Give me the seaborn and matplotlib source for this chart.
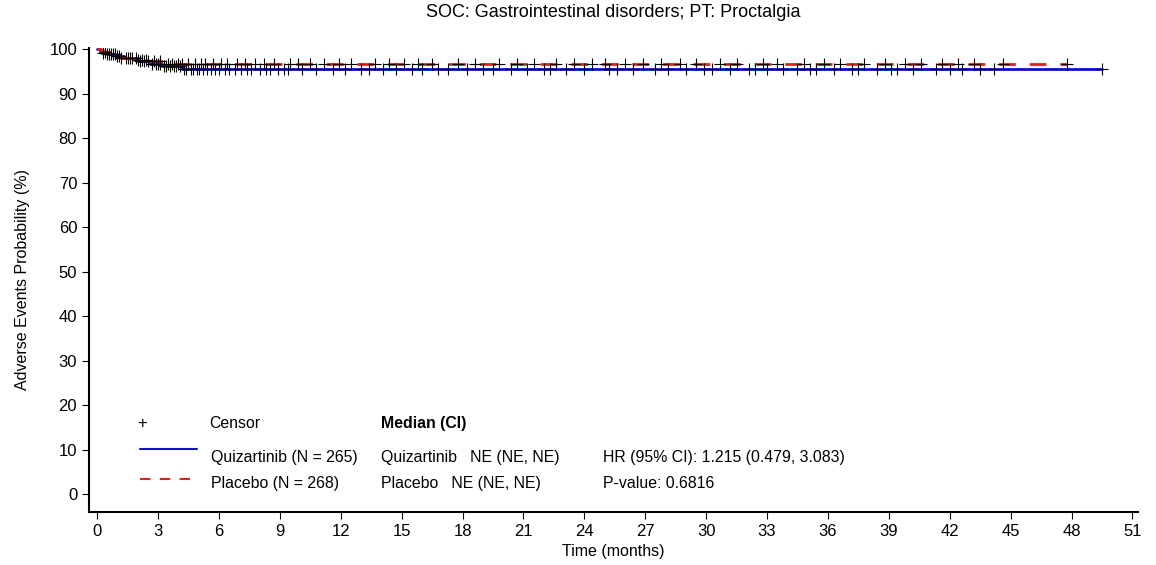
import numpy as np
import pandas as pd
import matplotlib
matplotlib.use("Agg")
import matplotlib.pyplot as plt
import seaborn as sns

# KM step points (months, % without event)
quiz_time = [0, 0.15, 0.3, 0.5, 0.9, 1.3, 2.0, 2.6, 3.2, 4.2, 49.5]
quiz_surv = [100, 99.6, 99.2, 98.9, 98.5, 98.1, 97.3, 96.6, 96.2, 95.5, 95.5]
plac_time = [0, 0.2, 0.4, 0.7, 1.2, 1.8, 2.5, 3.3, 47.8]
plac_surv = [100, 99.6, 99.3, 98.9, 98.1, 97.7, 97.3, 96.6, 96.6]

# censoring times
quiz_cens = [0.3, 0.5, 0.6, 0.8, 1.0, 1.1, 1.4, 1.6, 1.9, 2.1, 2.3, 2.5, 2.7, 2.9, 3.0,
             3.1, 3.3, 3.4, 3.6, 3.8, 3.9, 4.1, 4.3, 4.4, 4.6, 4.7, 4.9, 5.0, 5.2, 5.4,
             5.6, 5.8, 6.0, 6.3, 6.5, 6.8, 7.1, 7.4, 7.6, 8.0, 8.3, 8.5, 8.9, 9.2, 9.4,
             10.1, 10.8, 11.6, 12.2, 13.0, 13.4, 14.1, 14.7, 15.5, 16.0, 16.8, 17.3,
             18.2, 19.0, 19.5, 20.4, 21.2, 22.0, 22.3, 23.1, 24.0, 25.2, 25.6, 26.4,
             27.5, 28.1, 29.0, 29.9, 30.3, 31.2, 32.1, 32.4, 33.0, 33.8, 34.5, 35.1,
             35.4, 36.3, 37.2, 37.5, 38.4, 39.1, 39.4, 40.2, 41.3, 42.0, 42.6, 43.5,
             44.2, 49.5]
plac_cens = [0.4, 0.7, 0.9, 1.2, 1.5, 1.7, 2.0, 2.2, 2.4, 2.8, 3.1, 3.5, 3.7, 4.0, 4.2,
             4.5, 4.8, 5.1, 5.3, 5.7, 6.1, 6.4, 6.9, 7.3, 7.8, 8.2, 8.7, 9.5, 9.9, 10.5,
             11.2, 11.9, 12.5, 13.7, 14.4, 15.1, 15.8, 16.5, 17.8, 18.6, 19.8, 20.7,
             21.5, 22.6, 23.5, 24.4, 25.0, 26.0, 26.9, 27.8, 28.7, 29.5, 30.7, 31.5,
             32.8, 33.5, 34.8, 35.8, 36.6, 37.8, 38.8, 39.8, 40.6, 41.6, 42.4, 43.2,
             44.6, 47.8]

title = "SOC: Gastrointestinal disorders; PT: Proctalgia"

sns.set_style("ticks", {"axes.edgecolor": "black", "text.color": "black",
                        "xtick.color": "black", "ytick.color": "black",
                        "axes.labelcolor": "black"})
plt.rcParams['font.family'] = ['Liberation Sans', 'DejaVu Sans']

fig = plt.figure(figsize=(11.56, 5.65), dpi=100)
ax = fig.add_axes([0.077, 0.094, 0.907, 0.821])

sns.lineplot(x=quiz_time, y=quiz_surv, ax=ax, color='#1010c0', lw=2,
             drawstyle='steps-post', estimator=None, sort=False)
sns.lineplot(x=plac_time, y=plac_surv, ax=ax, color='#e02020', lw=2,
             drawstyle='steps-post', estimator=None, sort=False, dashes=False,
             linestyle=(0, (6, 5)))


def surv_at(times, surv, t):
    idx = np.searchsorted(times, t, side='right') - 1
    return np.array(surv)[idx]


for tt, ss, cc in [(quiz_time, quiz_surv, quiz_cens), (plac_time, plac_surv, plac_cens)]:
    ys = [surv_at(tt, ss, c) for c in cc]
    sns.scatterplot(x=cc, y=ys, ax=ax, marker='+', color='black', s=80,
                    linewidth=0.8, zorder=4)

ax.set_xlim(-0.4, 51.25)
ax.set_ylim(-4, 100.3)
ax.set_xticks(np.arange(0, 52, 3))
ax.set_yticks(np.arange(0, 101, 10))
ax.tick_params(labelsize=12, length=5, width=0.8, direction='out')
for s in ['left', 'bottom']:
    ax.spines[s].set_linewidth(1.5)
sns.despine(ax=ax)
ax.set_xlabel('Time (months)', fontsize=11.5)
ax.set_ylabel('Adverse Events Probability (%)', fontsize=11.5, labelpad=14)
ax.set_title(title, fontsize=13, pad=22)

# in-plot legend / stats
fs = 11.4
tr = ax.transData
ax.text(2.2, 15.8, '+', fontsize=12, ha='center', va='center', transform=tr)
ax.text(5.5, 15.8, 'Censor', fontsize=fs, va='center', transform=tr)
ax.plot([2.1, 4.9], [10.1, 10.1], color='#1010c0', lw=1.5)
ax.text(5.6, 8.3, 'Quizartinib (N = 265)', fontsize=fs, va='center', transform=tr)
ax.plot([2.1, 4.9], [3.4, 3.4], color='#e02020', lw=1.5, linestyle=(0, (5, 4.5)))
ax.text(5.6, 2.3, 'Placebo (N = 268)', fontsize=fs, va='center', transform=tr)
ax.text(14.0, 15.8, 'Median (CI)', fontsize=fs, fontweight='bold', va='center', transform=tr)
ax.text(14.0, 8.3, 'Quizartinib   NE (NE, NE)', fontsize=fs, va='center', transform=tr)
ax.text(14.0, 2.3, 'Placebo   NE (NE, NE)', fontsize=fs, va='center', transform=tr)
ax.text(24.9, 8.3, 'HR (95% CI): 1.215 (0.479, 3.083)', fontsize=fs, va='center', transform=tr)
ax.text(24.9, 2.3, 'P-value: 0.6816', fontsize=fs, va='center', transform=tr)

fig.savefig('out.png', dpi=100)
